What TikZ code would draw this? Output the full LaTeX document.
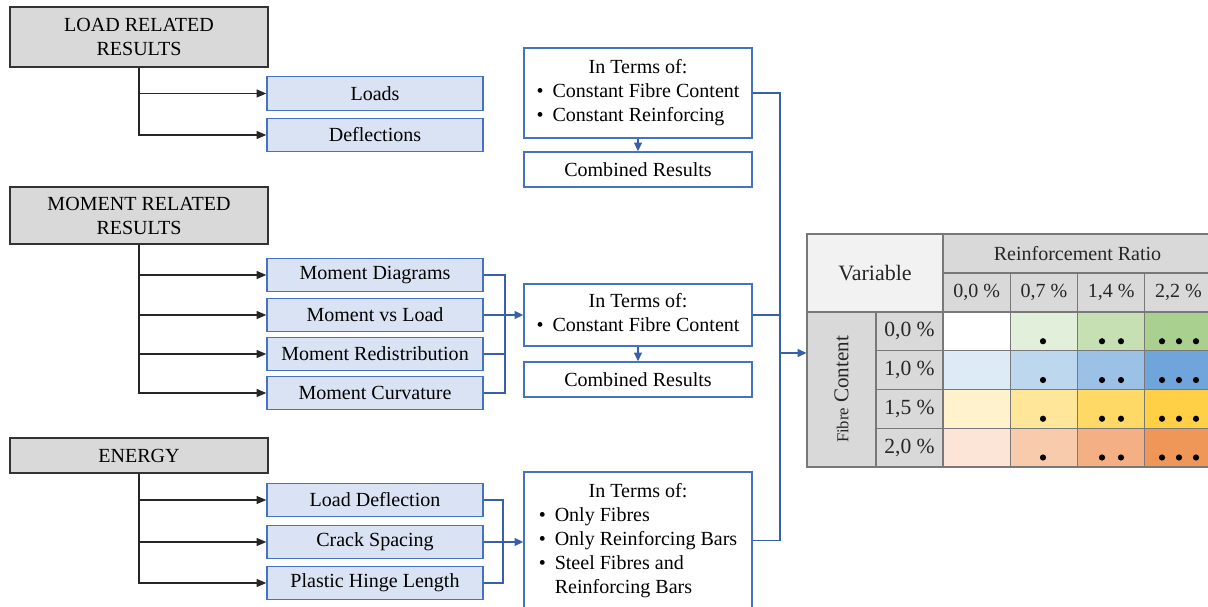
\documentclass[tikz,border=0pt]{standalone}
\usepackage{fontspec}
\setmainfont{Liberation Serif}
\usetikzlibrary{arrows.meta}

\definecolor{hdrgray}{HTML}{D9D9D9}
\definecolor{lightgray}{HTML}{F2F2F2}
\definecolor{itemblue}{HTML}{DAE3F3}
\definecolor{boxblue}{RGB}{68,114,196}
\definecolor{linkblue}{RGB}{55,95,170}
\definecolor{gridgray}{RGB}{120,120,120}
\definecolor{gA}{HTML}{E2EFDA}\definecolor{gB}{HTML}{C6E0B4}\definecolor{gC}{HTML}{A9D08E}
\definecolor{bZ}{HTML}{DDEBF7}\definecolor{bA}{HTML}{BDD7EE}\definecolor{bB}{HTML}{9BC2E6}\definecolor{bC}{HTML}{70A5DB}
\definecolor{yZ}{HTML}{FFF2CC}\definecolor{yA}{HTML}{FFE699}\definecolor{yB}{HTML}{FFD966}\definecolor{yC}{HTML}{FFD046}
\definecolor{oZ}{HTML}{FCE4D6}\definecolor{oA}{HTML}{F8CBAD}\definecolor{oB}{HTML}{F4B084}\definecolor{oC}{HTML}{EF9659}

\begin{document}
\begin{tikzpicture}[x=0.02cm, y=-0.02cm,
  font=\fontsize{11.4}{13.66}\selectfont,
  grp/.style={draw=black!80, fill=hdrgray, line width=0.8pt, minimum width=5.16cm,
    inner sep=0pt, align=center},
  item/.style={draw=boxblue, fill=itemblue, line width=0.8pt, minimum width=4.32cm,
    minimum height=0.67cm, inner sep=0pt},
  term/.style={draw=boxblue, fill=white, line width=0.8pt, minimum width=4.56cm,
    inner sep=0pt},
  blk/.style={draw=black!85, line width=0.8pt, -{Triangle[length=5.5pt,width=4.5pt]}},
  bl/.style={draw=linkblue, line width=0.8pt},
  blarr/.style={bl, -{Triangle[length=5pt,width=4.5pt]}},
  cell/.style={draw=gridgray, line width=0.6pt, inner sep=0pt, text=black!85},
  dot/.style={fill=black}
]
\useasboundingbox (0,0) rectangle (1208,607);

% ---- load related group
\node[grp, minimum height=1.2cm] (load) at (139,37) {LOAD RELATED\\RESULTS};
\node[item] (loads) at (375,93.5) {Loads};
\node[item] (defl) at (375,135) {Deflections};
\draw[blk] (load.south) |- (loads.west);
\draw[blk] (load.south) |- (defl.west);

% ---- moment related group
\node[grp, minimum height=1.14cm] (mom) at (139,215.5) {MOMENT RELATED\\RESULTS};
\node[item] (md) at (375,275) {Moment Diagrams};
\node[item] (mvl) at (375,315) {Moment vs Load};
\node[item] (mr) at (375,354) {Moment Redistribution};
\node[item] (mc) at (375,393) {Moment Curvature};
\foreach \n in {md,mvl,mr,mc} \draw[blk] (mom.south) |- (\n.west);

% ---- energy group
\node[grp, minimum height=0.7cm] (en) at (139,455.5) {ENERGY};
\node[item] (ld) at (375,500) {Load Deflection};
\node[item] (cs) at (375,542) {Crack Spacing};
\node[item] (ph) at (375,583) {Plastic Hinge Length};
\foreach \n in {ld,cs,ph} \draw[blk] (en.south) |- (\n.west);

% ---- evaluation boxes
\node[term, minimum height=1.8cm] (t1) at (638,93) {%
  \begin{tabular}{@{}l@{\hspace{0.45em}}l@{}}
  \multicolumn{2}{c}{In Terms of:}\\
  \textbullet & Constant Fibre Content\\
  \textbullet & Constant Reinforcing
  \end{tabular}};
\node[term, minimum height=0.7cm] (c1) at (638,169.5) {Combined Results};
\node[term, minimum height=1.24cm] (t2) at (638,315) {%
  \begin{tabular}{@{}l@{\hspace{0.45em}}l@{}}
  \multicolumn{2}{c}{In Terms of:}\\
  \textbullet & Constant Fibre Content
  \end{tabular}};
\node[term, minimum height=0.7cm] (c2) at (638,379.5) {Combined Results};
\node[term, minimum height=2.74cm] (t3) at (638,540.5) {%
  \begin{tabular}{@{}l@{\hspace{0.45em}}l@{}}
  \multicolumn{2}{c}{In Terms of:}\\
  \textbullet & Only Fibres\\
  \textbullet & Only Reinforcing Bars\\
  \textbullet & Steel Fibres and\\
   & Reinforcing Bars
  \end{tabular}};
\draw[blarr] (t1.south) -- (c1.north);
\draw[blarr] (t2.south) -- (c2.north);

% ---- brackets collecting the result boxes
\coordinate (mj) at (505,315);
\draw[bl] (md.east) -| (mj) |- (mc.east);
\draw[bl] (mr.east) -- (mr.east -| mj);
\draw[blarr] (mvl.east) -- (t2.west);
\coordinate (ej) at (503,542);
\draw[bl] (ld.east) -| (ej) |- (ph.east);
\draw[blarr] (cs.east) -- (cs.east -| t3.west);

% ---- collector to the matrix
\coordinate (rj) at (780,353);
\draw[bl] (t1.east) -| (rj |- t3.east) -- (t3.east);
\draw[bl] (t2.east) -- (t2.east -| rj);

% ---- matrix of test variables
\node[cell, fill=lightgray, minimum width=2.72cm, minimum height=1.56cm] (var) at (875,273)
  {\fontsize{12.5}{14}\selectfont Variable};
\node[cell, fill=hdrgray, minimum width=5.38cm, minimum height=0.78cm] (rr) at (1077.5,253.5)
  {Reinforcement Ratio};
\foreach \j/\t in {1/{0,0 \%},2/{0,7 \%},3/{1,4 \%},4/{2,2 \%}}
  \node[cell, fill=hdrgray, minimum width=1.345cm, minimum height=0.78cm] (h\j)
    at ({943+67.25*(\j-0.5)},292.5) {\t};
\node[cell, fill=hdrgray, minimum width=1.38cm, minimum height=3.1cm] (fc) at (841.5,389.5) {};
\node[rotate=90, text=black!85] (fct) at (fc.center)
  {{\fontsize{9.5}{11}\selectfont Fibre} {\fontsize{12}{14}\selectfont Content}};
\foreach \i/\t in {1/{0,0 \%},2/{1,0 \%},3/{1,5 \%},4/{2,0 \%}}
  \node[cell, fill=hdrgray, minimum width=1.34cm, minimum height=0.775cm,
    font=\fontsize{12.3}{14}\selectfont] (r\i)
    at (909.5,{312+38.75*(\i-0.5)}) {\t};
\foreach \i/\ca/\cb/\cc/\cd in {1/white/gA/gB/gC, 2/bZ/bA/bB/bC, 3/yZ/yA/yB/yC, 4/oZ/oA/oB/oC}{
  \foreach \j/\cl in {1/\ca,2/\cb,3/\cc,4/\cd}
    \node[cell, fill=\cl, minimum width=1.345cm, minimum height=0.775cm] (c\i-\j)
      at ({943+67.25*(\j-0.5)},{312+38.75*(\i-0.5)}) {};
  \pgfmathsetmacro{\dy}{312+38.75*\i-9.5}
  \fill[dot] (1043,\dy) circle[radius=0.062cm];
  \fill[dot] (1102,\dy) circle[radius=0.062cm];
  \fill[dot] (1121,\dy) circle[radius=0.062cm];
  \fill[dot] (1162,\dy) circle[radius=0.062cm];
  \fill[dot] (1179,\dy) circle[radius=0.062cm];
  \fill[dot] (1196,\dy) circle[radius=0.062cm];
}
\draw[blarr] (rj) -- (rj -| fc.west);
\end{tikzpicture}
\end{document}
